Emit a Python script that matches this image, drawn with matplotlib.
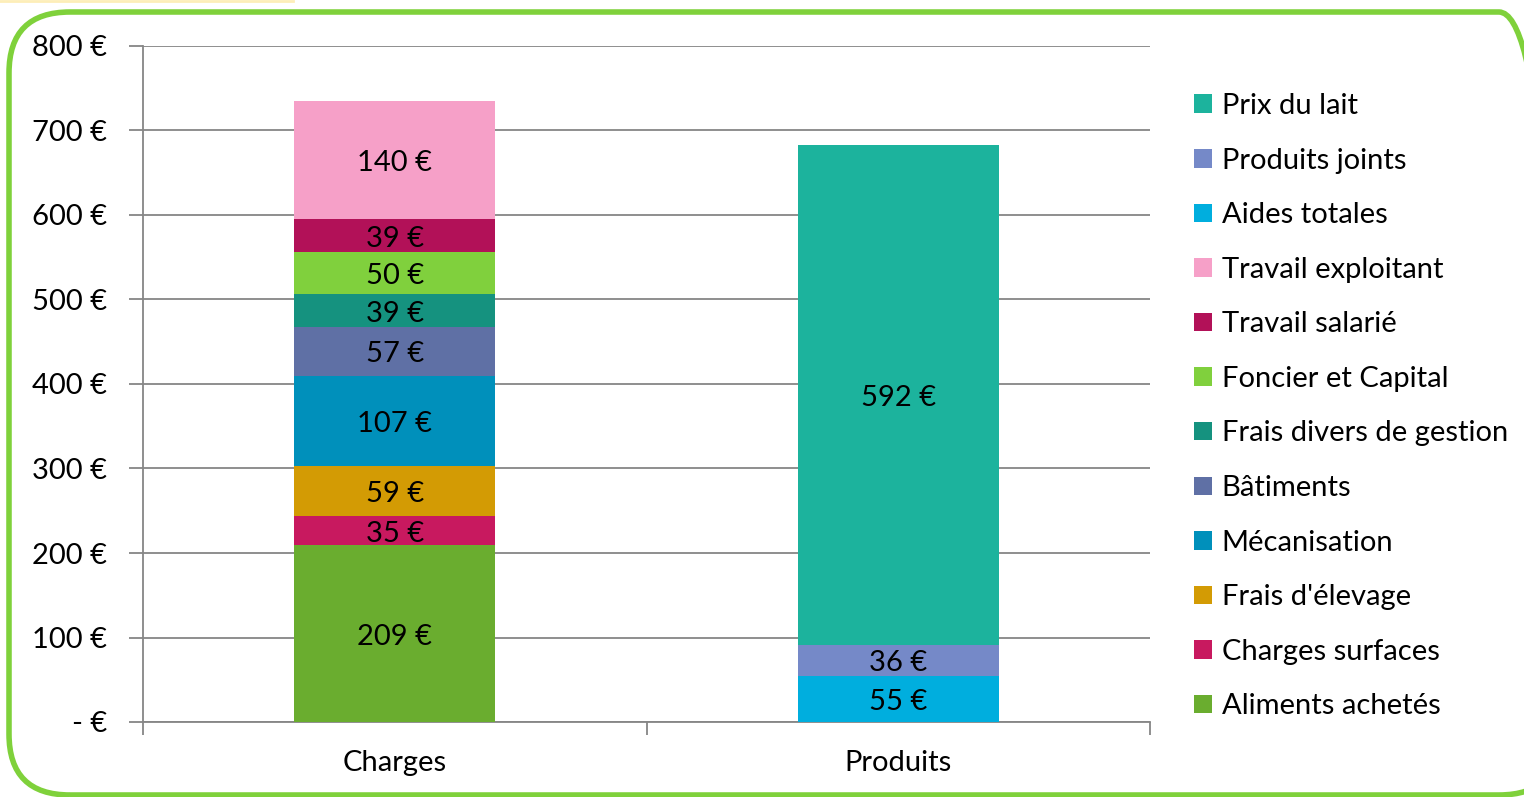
import matplotlib
matplotlib.use("Agg")
import matplotlib.pyplot as plt
import matplotlib.transforms as mtransforms
from matplotlib.patches import FancyBboxPatch, Patch
from matplotlib.lines import Line2D

plt.rcParams['font.family'] = ['Lato', 'DejaVu Sans']

categories = ["Charges", "Produits"]
charges_labels = ["Aliments achetés", "Charges surfaces", "Frais d'élevage", "Mécanisation",
                  "Bâtiments", "Frais divers de gestion", "Foncier et Capital",
                  "Travail salarié", "Travail exploitant"]
charges_values = [209, 35, 59, 107, 57, 39, 50, 39, 140]
charges_colors = ["#6aad2f", "#c8195f", "#d39b04", "#0090bb", "#5f70a5", "#15927f",
                  "#80d03d", "#b21158", "#f6a0c8"]
produits_labels = ["Aides totales", "Produits joints", "Prix du lait"]
produits_values = [55, 36, 592]
produits_colors = ["#00aede", "#7589c8", "#1cb39d"]
yticks = [0, 100, 200, 300, 400, 500, 600, 700, 800]
ytick_labels = ["- €", "100 €", "200 €", "300 €", "400 €", "500 €", "600 €", "700 €", "800 €"]

W, H = 1524, 797
fig = plt.figure(figsize=(W / 100, H / 100), dpi=100)
ax = fig.add_axes([143 / W, 1 - 722 / H, (1150 - 143) / W, (722 - 46) / H])

fs = 21
bw = 0.4
txt_tr = ax.transData + mtransforms.ScaledTranslation(0, -3 / 100, fig.dpi_scale_trans)
bottom = 0
for lab, v, c in zip(charges_labels, charges_values, charges_colors):
    ax.bar(0, v, bw, bottom=bottom, color=c, zorder=3)
    ax.text(0, bottom + v / 2, f"{v} €", ha="center", va="center", fontsize=fs, zorder=4,
            transform=txt_tr)
    bottom += v
bottom = 0
for lab, v, c in zip(produits_labels, produits_values, produits_colors):
    ax.bar(1, v, bw, bottom=bottom, color=c, zorder=3)
    ax.text(1, bottom + v / 2, f"{v} €", ha="center", va="center", fontsize=fs, zorder=4,
            transform=txt_tr)
    bottom += v

ax.set_xlim(-0.5, 1.5)
ax.set_ylim(0, 800)
ax.set_yticks(yticks)
ax.set_yticklabels(ytick_labels, fontsize=fs)
ax.set_xticks([0, 1])
ax.set_xticklabels(categories, fontsize=fs)
ax.set_xticks([-0.5, 0.5, 1.5], minor=True)
ax.tick_params(axis="x", which="major", length=0, pad=20)
ax.tick_params(axis="x", which="minor", length=9, color="#868686", width=1.3)
ax.tick_params(axis="y", length=10, color="#868686", width=1.3, pad=16)
ax.yaxis.grid(True, color="#868686", linewidth=1.3, zorder=0)
for s in ["top", "right"]:
    ax.spines[s].set_visible(False)
for s in ["left", "bottom"]:
    ax.spines[s].set_color("#868686")
    ax.spines[s].set_linewidth(1.3)

order = ["Prix du lait", "Produits joints", "Aides totales", "Travail exploitant",
         "Travail salarié", "Foncier et Capital", "Frais divers de gestion", "Bâtiments",
         "Mécanisation", "Frais d'élevage", "Charges surfaces", "Aliments achetés"]
color_map = dict(zip(charges_labels + produits_labels, charges_colors + produits_colors))
leg_handles = [Patch(facecolor=color_map[l], edgecolor="none") for l in order]
fig.legend(leg_handles, order, loc="upper left", bbox_to_anchor=(1194 / W, 1 - 93 / H),
           frameon=False, fontsize=fs, handlelength=0.6, handleheight=0.6,
           handletextpad=0.35, labelspacing=0.98, borderpad=0, borderaxespad=0)

# rounded green frame
frame = FancyBboxPatch((9 / W, 2 / H), (1560 - 9) / W, (785 - 2) / H,
                       boxstyle="round,pad=0,rounding_size=0.04",
                       transform=fig.transFigure, facecolor="none",
                       edgecolor="#7fd13b", linewidth=4, mutation_aspect=W / H)
fig.add_artist(frame)
fig.add_artist(Line2D([0, 293 / W], [1 - 1 / H, 1 - 1 / H], transform=fig.transFigure,
                      color="#fdeeb8", linewidth=2))

fig.savefig("out.png", dpi=100)
